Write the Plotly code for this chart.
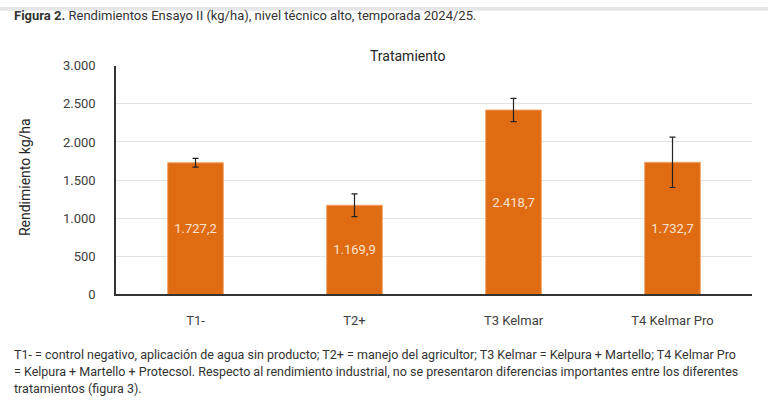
import plotly.graph_objects as go

W, H = 768, 404

# datos
tratamientos = ["T1-", "T2+", "T3 Kelmar", "T4 Kelmar Pro"]
rendimiento = [1727.2, 1169.9, 2418.7, 1732.7]
error_std = [58, 150, 152, 330]
y_ticks = [0, 500, 1000, 1500, 2000, 2500, 3000]

FONT = "Roboto"
NARANJA = "#DF6C12"

# la captura muestra la página algo comprimida en vertical (~0.968, 7 px arriba)
OFF_Y, ESC_Y = 7, 0.968


def px_x(x):
    return x / W


def px_y(y):
    # y medida en la referencia -> fracción de papel
    return 1 - ((y - OFF_Y) / ESC_Y) / H


fig = go.Figure()

fig.add_trace(go.Bar(
    x=tratamientos,
    y=rendimiento,
    width=0.35,
    marker=dict(color=NARANJA, line=dict(color="#F2A46A", width=1)),
    error_y=dict(type="data", array=error_std, visible=True,
                 color="#222222", thickness=1.2, width=3),
    texttemplate="%{y:,.1f}",
    textposition="inside",
    insidetextanchor="middle",
    textfont=dict(family=FONT, size=13, color="#FBE3CF"),
    hoverinfo="skip",
))

fig.update_layout(
    width=W, height=H,
    margin=dict(l=0, r=0, t=0, b=0),
    paper_bgcolor="white",
    plot_bgcolor="white",
    separators=",.",
    showlegend=False,
    font=dict(family=FONT, color="#404040", size=13),
    xaxis=dict(
        domain=[px_x(116), px_x(752)],
        showline=True, linecolor="#333333", linewidth=1.5,
        ticks="", ticklabelstandoff=13,
        tickfont=dict(size=13, color="#404040"),
    ),
    yaxis=dict(
        domain=[px_y(296), px_y(66)],
        range=[0, 3000],
        tickvals=y_ticks,
        tickformat=",d",
        showgrid=True, gridcolor="#E3E3E3", gridwidth=1.2,
        zeroline=False,
        showline=True, linecolor="#333333", linewidth=1.5,
        ticks="", ticklabelstandoff=16,
        tickfont=dict(size=13, color="#404040"),
    ),
    bargap=0.65,
)

# banda gris superior
fig.add_shape(type="rect", xref="paper", yref="paper",
              x0=0, x1=1, y0=1 - 4 / H, y1=1,
              fillcolor="#E6E6E9", line_width=0, layer="below")

# título de la figura
fig.add_annotation(
    x=px_x(12), y=px_y(16), xref="paper", yref="paper",
    xanchor="left", yanchor="middle", showarrow=False,
    text="<b>Figura 2.</b> Rendimientos Ensayo II (kg/ha), nivel técnico alto, temporada 2024/25.",
    font=dict(family=FONT, size=13, color="#333333"),
)

# título del gráfico
fig.add_annotation(
    x=px_x(407), y=px_y(56), xref="paper", yref="paper",
    xanchor="center", yanchor="middle", showarrow=False,
    text="Tratamiento", font=dict(family=FONT, size=14, color="#262626"),
)

# título eje y
fig.add_annotation(
    x=px_x(25), y=px_y(178), xref="paper", yref="paper",
    xanchor="center", yanchor="middle", showarrow=False, textangle=-90,
    text="Rendimiento kg/ha", font=dict(family=FONT, size=14, color="#262626"),
)

# nota al pie
nota = [
    "T1- = control negativo, aplicación de agua sin producto; T2+ = manejo del agricultor; T3 Kelmar = Kelpura + Martello; T4 Kelmar Pro",
    "= Kelpura + Martello + Protecsol. Respecto al rendimiento industrial, no se presentaron diferencias importantes entre los diferentes",
    "tratamientos (figura 3).",
]
for i, linea in enumerate(nota):
    fig.add_annotation(
        x=px_x(12), y=px_y(356 + 17.5 * i), xref="paper", yref="paper",
        xanchor="left", yanchor="middle", showarrow=False,
        text=linea, font=dict(family=FONT, size=12.5, color="#333333"),
    )

css = ("document.documentElement.style.margin='0';"
       "document.body.style.margin='0';"
       "document.body.style.overflow='hidden';")
fig.write_html("out.html", config={"displayModeBar": False}, post_script=css)
